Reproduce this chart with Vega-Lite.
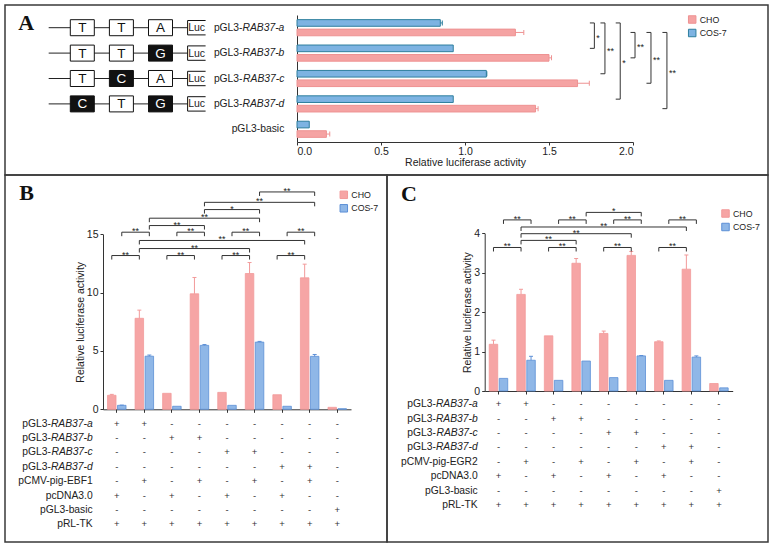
{
"$schema": "https://vega.github.io/schema/vega-lite/v6.json",
"padding": {"left": 4, "top": 4, "right": 5, "bottom": 4},
"background": "white",
"spacing": 0,
"bounds": "flush",
"config": {
  "view": {"stroke": "#3a3a3a", "strokeWidth": 1.5},
  "font": "Liberation Sans",
  "axis": {"grid": false, "labelFont": "Liberation Sans", "labelFontSize": 10.5, "labelColor": "#222", "titleFont": "Liberation Sans", "titleFontSize": 10.5, "titleFontWeight": "normal", "titleColor": "#222", "domainColor": "#333", "tickColor": "#333", "tickSize": 3},
  "text": {"font": "Liberation Sans", "color": "#222"}
},
"datasets": {
  "A_title": [{"t": "A"}],
  "B_title": [{"t": "B"}],
  "C_title": [{"t": "C"}],
  "A_cons": [{"c":"pGL3-RAB37-a"},{"c":"pGL3-RAB37-b"},{"c":"pGL3-RAB37-c"},{"c":"pGL3-RAB37-d"}],
  "A_sites": [
    {"c":"pGL3-RAB37-a","pos":1,"b":"T","m":false},{"c":"pGL3-RAB37-a","pos":2,"b":"T","m":false},{"c":"pGL3-RAB37-a","pos":3,"b":"A","m":false},
    {"c":"pGL3-RAB37-b","pos":1,"b":"T","m":false},{"c":"pGL3-RAB37-b","pos":2,"b":"T","m":false},{"c":"pGL3-RAB37-b","pos":3,"b":"G","m":true},
    {"c":"pGL3-RAB37-c","pos":1,"b":"T","m":false},{"c":"pGL3-RAB37-c","pos":2,"b":"C","m":true},{"c":"pGL3-RAB37-c","pos":3,"b":"A","m":false},
    {"c":"pGL3-RAB37-d","pos":1,"b":"C","m":true},{"c":"pGL3-RAB37-d","pos":2,"b":"T","m":false},{"c":"pGL3-RAB37-d","pos":3,"b":"G","m":true}
  ],
  "A_lab": [
    {"c":"pGL3-RAB37-a","p":"pGL3-","i":"RAB37-a"},{"c":"pGL3-RAB37-b","p":"pGL3-","i":"RAB37-b"},
    {"c":"pGL3-RAB37-c","p":"pGL3-","i":"RAB37-c"},{"c":"pGL3-RAB37-d","p":"pGL3-","i":"RAB37-d"},
    {"c":"pGL3-basic","p":"pGL3-basic","i":""}
  ],
  "A_bars": [
    {"c":"pGL3-RAB37-a","cell":"COS-7","v":0.853,"hi":0.865},
    {"c":"pGL3-RAB37-a","cell":"CHO","v":1.30,"hi":1.35},
    {"c":"pGL3-RAB37-b","cell":"COS-7","v":0.93,"hi":0.93},
    {"c":"pGL3-RAB37-b","cell":"CHO","v":1.50,"hi":1.515},
    {"c":"pGL3-RAB37-c","cell":"COS-7","v":1.127,"hi":1.13},
    {"c":"pGL3-RAB37-c","cell":"CHO","v":1.67,"hi":1.74},
    {"c":"pGL3-RAB37-d","cell":"COS-7","v":0.93,"hi":0.93},
    {"c":"pGL3-RAB37-d","cell":"CHO","v":1.42,"hi":1.435},
    {"c":"pGL3-basic","cell":"COS-7","v":0.073,"hi":0.073},
    {"c":"pGL3-basic","cell":"CHO","v":0.175,"hi":0.195}
  ],
  "A_br": [
    {"cell":"COS-7","from":"pGL3-RAB37-a","to":"pGL3-RAB37-b","lvl":1.77,"lab":"*","mid":"pGL3-RAB37-b","half":true},
    {"cell":"COS-7","from":"pGL3-RAB37-a","to":"pGL3-RAB37-c","lvl":1.833,"lab":"**","mid":"pGL3-RAB37-b","half":false},
    {"cell":"COS-7","from":"pGL3-RAB37-a","to":"pGL3-RAB37-d","lvl":1.924,"lab":"*","mid":"pGL3-RAB37-c","half":true},
    {"cell":"CHO","from":"pGL3-RAB37-a","to":"pGL3-RAB37-b","lvl":2.012,"lab":"**","mid":"pGL3-RAB37-b","half":true},
    {"cell":"CHO","from":"pGL3-RAB37-a","to":"pGL3-RAB37-c","lvl":2.107,"lab":"**","mid":"pGL3-RAB37-b","half":false},
    {"cell":"CHO","from":"pGL3-RAB37-a","to":"pGL3-RAB37-d","lvl":2.202,"lab":"**","mid":"pGL3-RAB37-c","half":true}
  ],
  "B_bars": [
    {"g":"g1","cell":"CHO","v":1.2,"hi":1.28},{"g":"g1","cell":"COS-7","v":0.34,"hi":0.36},
    {"g":"g2","cell":"CHO","v":7.8,"hi":8.5},{"g":"g2","cell":"COS-7","v":4.55,"hi":4.65},
    {"g":"g3","cell":"CHO","v":1.37,"hi":1.37},{"g":"g3","cell":"COS-7","v":0.26,"hi":0.26},
    {"g":"g4","cell":"CHO","v":9.9,"hi":11.3},{"g":"g4","cell":"COS-7","v":5.48,"hi":5.55},
    {"g":"g5","cell":"CHO","v":1.45,"hi":1.45},{"g":"g5","cell":"COS-7","v":0.34,"hi":0.34},
    {"g":"g6","cell":"CHO","v":11.64,"hi":12.58},{"g":"g6","cell":"COS-7","v":5.76,"hi":5.82},
    {"g":"g7","cell":"CHO","v":1.25,"hi":1.25},{"g":"g7","cell":"COS-7","v":0.26,"hi":0.26},
    {"g":"g8","cell":"CHO","v":11.27,"hi":12.44},{"g":"g8","cell":"COS-7","v":4.54,"hi":4.7},
    {"g":"g9","cell":"CHO","v":0.17,"hi":0.17},{"g":"g9","cell":"COS-7","v":0.05,"hi":0.05}
  ],
  "B_br": [
    {"cell":"CHO","from":"g1","to":"g2","lvl":13.18,"lab":"**","mid":"g2","half":true},
    {"cell":"CHO","from":"g3","to":"g4","lvl":13.18,"lab":"**","mid":"g4","half":true},
    {"cell":"CHO","from":"g5","to":"g6","lvl":13.18,"lab":"**","mid":"g6","half":true},
    {"cell":"CHO","from":"g7","to":"g8","lvl":13.18,"lab":"**","mid":"g8","half":true},
    {"cell":"CHO","from":"g2","to":"g6","lvl":13.78,"lab":"**","mid":"g4","half":false},
    {"cell":"CHO","from":"g2","to":"g8","lvl":14.47,"lab":"**","mid":"g5","half":false},
    {"cell":"COS-7","from":"g1","to":"g2","lvl":15.18,"lab":"**","mid":"g2","half":true},
    {"cell":"COS-7","from":"g3","to":"g4","lvl":15.18,"lab":"**","mid":"g4","half":true},
    {"cell":"COS-7","from":"g5","to":"g6","lvl":15.18,"lab":"**","mid":"g6","half":true},
    {"cell":"COS-7","from":"g7","to":"g8","lvl":15.18,"lab":"**","mid":"g8","half":true},
    {"cell":"COS-7","from":"g2","to":"g4","lvl":15.75,"lab":"**","mid":"g3","half":false},
    {"cell":"COS-7","from":"g2","to":"g6","lvl":16.38,"lab":"**","mid":"g4","half":false},
    {"cell":"COS-7","from":"g4","to":"g6","lvl":17.12,"lab":"*","mid":"g5","half":false},
    {"cell":"COS-7","from":"g4","to":"g8","lvl":17.74,"lab":"**","mid":"g6","half":false},
    {"cell":"COS-7","from":"g6","to":"g8","lvl":18.63,"lab":"**","mid":"g7","half":false}
  ],
  "B_tab": [
    {"r":"pGL3-RAB37-a","p":"pGL3-","i":"RAB37-a","g1":"+","g2":"+","g3":"-","g4":"-","g5":"-","g6":"-","g7":"-","g8":"-","g9":"-"},
    {"r":"pGL3-RAB37-b","p":"pGL3-","i":"RAB37-b","g1":"-","g2":"-","g3":"+","g4":"+","g5":"-","g6":"-","g7":"-","g8":"-","g9":"-"},
    {"r":"pGL3-RAB37-c","p":"pGL3-","i":"RAB37-c","g1":"-","g2":"-","g3":"-","g4":"-","g5":"+","g6":"+","g7":"-","g8":"-","g9":"-"},
    {"r":"pGL3-RAB37-d","p":"pGL3-","i":"RAB37-d","g1":"-","g2":"-","g3":"-","g4":"-","g5":"-","g6":"-","g7":"+","g8":"+","g9":"-"},
    {"r":"pCMV-pig-EBF1","p":"pCMV-pig-EBF1","i":"","g1":"-","g2":"+","g3":"-","g4":"+","g5":"-","g6":"+","g7":"-","g8":"+","g9":"-"},
    {"r":"pcDNA3.0","p":"pcDNA3.0","i":"","g1":"+","g2":"-","g3":"+","g4":"-","g5":"+","g6":"-","g7":"+","g8":"-","g9":"-"},
    {"r":"pGL3-basic","p":"pGL3-basic","i":"","g1":"-","g2":"-","g3":"-","g4":"-","g5":"-","g6":"-","g7":"-","g8":"-","g9":"+"},
    {"r":"pRL-TK","p":"pRL-TK","i":"","g1":"+","g2":"+","g3":"+","g4":"+","g5":"+","g6":"+","g7":"+","g8":"+","g9":"+"}
  ],
  "C_bars": [
    {"g":"g1","cell":"CHO","v":1.185,"hi":1.29},{"g":"g1","cell":"COS-7","v":0.32,"hi":0.32},
    {"g":"g2","cell":"CHO","v":2.45,"hi":2.58},{"g":"g2","cell":"COS-7","v":0.78,"hi":0.88},
    {"g":"g3","cell":"CHO","v":1.40,"hi":1.40},{"g":"g3","cell":"COS-7","v":0.27,"hi":0.27},
    {"g":"g4","cell":"CHO","v":3.24,"hi":3.36},{"g":"g4","cell":"COS-7","v":0.76,"hi":0.76},
    {"g":"g5","cell":"CHO","v":1.46,"hi":1.52},{"g":"g5","cell":"COS-7","v":0.34,"hi":0.34},
    {"g":"g6","cell":"CHO","v":3.44,"hi":3.54},{"g":"g6","cell":"COS-7","v":0.89,"hi":0.9},
    {"g":"g7","cell":"CHO","v":1.25,"hi":1.27},{"g":"g7","cell":"COS-7","v":0.27,"hi":0.27},
    {"g":"g8","cell":"CHO","v":3.09,"hi":3.45},{"g":"g8","cell":"COS-7","v":0.86,"hi":0.89},
    {"g":"g9","cell":"CHO","v":0.19,"hi":0.19},{"g":"g9","cell":"COS-7","v":0.08,"hi":0.08}
  ],
  "C_br": [
    {"cell":"CHO","from":"g1","to":"g2","lvl":3.64,"lab":"**","mid":"g2","half":true},
    {"cell":"CHO","from":"g3","to":"g4","lvl":3.64,"lab":"**","mid":"g4","half":true},
    {"cell":"CHO","from":"g5","to":"g6","lvl":3.64,"lab":"**","mid":"g6","half":true},
    {"cell":"CHO","from":"g7","to":"g8","lvl":3.64,"lab":"**","mid":"g8","half":true},
    {"cell":"CHO","from":"g2","to":"g4","lvl":3.82,"lab":"**","mid":"g3","half":false},
    {"cell":"CHO","from":"g2","to":"g6","lvl":3.99,"lab":"**","mid":"g4","half":false},
    {"cell":"CHO","from":"g2","to":"g8","lvl":4.16,"lab":"**","mid":"g5","half":false},
    {"cell":"COS-7","from":"g1","to":"g2","lvl":4.34,"lab":"**","mid":"g2","half":true},
    {"cell":"COS-7","from":"g3","to":"g4","lvl":4.34,"lab":"**","mid":"g4","half":true},
    {"cell":"COS-7","from":"g5","to":"g6","lvl":4.34,"lab":"**","mid":"g6","half":true},
    {"cell":"COS-7","from":"g7","to":"g8","lvl":4.34,"lab":"**","mid":"g8","half":true},
    {"cell":"COS-7","from":"g4","to":"g6","lvl":4.53,"lab":"*","mid":"g5","half":false}
  ],
  "C_tab": [
    {"r":"pGL3-RAB37-a","p":"pGL3-","i":"RAB37-a","g1":"+","g2":"+","g3":"-","g4":"-","g5":"-","g6":"-","g7":"-","g8":"-","g9":"-"},
    {"r":"pGL3-RAB37-b","p":"pGL3-","i":"RAB37-b","g1":"-","g2":"-","g3":"+","g4":"+","g5":"-","g6":"-","g7":"-","g8":"-","g9":"-"},
    {"r":"pGL3-RAB37-c","p":"pGL3-","i":"RAB37-c","g1":"-","g2":"-","g3":"-","g4":"-","g5":"+","g6":"+","g7":"-","g8":"-","g9":"-"},
    {"r":"pGL3-RAB37-d","p":"pGL3-","i":"RAB37-d","g1":"-","g2":"-","g3":"-","g4":"-","g5":"-","g6":"-","g7":"+","g8":"+","g9":"-"},
    {"r":"pCMV-pig-EGR2","p":"pCMV-pig-EGR2","i":"","g1":"-","g2":"+","g3":"-","g4":"+","g5":"-","g6":"+","g7":"-","g8":"+","g9":"-"},
    {"r":"pcDNA3.0","p":"pcDNA3.0","i":"","g1":"+","g2":"-","g3":"+","g4":"-","g5":"+","g6":"-","g7":"+","g8":"-","g9":"-"},
    {"r":"pGL3-basic","p":"pGL3-basic","i":"","g1":"-","g2":"-","g3":"-","g4":"-","g5":"-","g6":"-","g7":"-","g8":"-","g9":"+"},
    {"r":"pRL-TK","p":"pRL-TK","i":"","g1":"+","g2":"+","g3":"+","g4":"+","g5":"+","g6":"+","g7":"+","g8":"+","g9":"+"}
  ]
},
"resolve": {"scale": {"color": "independent", "stroke": "independent", "fill": "independent"}, "legend": {"color": "independent", "stroke": "independent", "fill": "independent"}},
"vconcat": [
{
  "width": 763, "height": 170,
  "resolve": {"scale": {"x": "independent"}, "axis": {"x": "independent"}},
  "layer": [
    {"layer": [
      {"data": {"name": "A_cons"}, "mark": {"type": "rule", "color": "#222", "strokeWidth": 1},
       "encoding": {
         "x": {"datum": 0.14, "type": "quantitative", "scale": {"domain": [1, 4], "range": [77.3, 194.6], "nice": false, "zero": false}, "axis": null},
         "x2": {"datum": 3.7},
         "y": {"field": "c", "type": "nominal", "scale": {"type": "band", "domain": ["pGL3-RAB37-a","pGL3-RAB37-b","pGL3-RAB37-c","pGL3-RAB37-d","pGL3-basic"], "range": [10, 137], "paddingInner": 0, "paddingOuter": 0}}}},
      {"data": {"name": "A_sites"}, "mark": {"type": "point", "shape": "M-1,-0.667H1V0.667H-1Z", "size": 576, "filled": true, "stroke": "#111", "strokeWidth": 1, "opacity": 1},
       "encoding": {
         "x": {"field": "pos", "type": "quantitative", "axis": null},
         "y": {"field": "c", "type": "nominal"},
         "fill": {"condition": {"test": "datum.m", "value": "#111111"}, "value": "#ffffff"}}},
      {"data": {"name": "A_sites"}, "mark": {"type": "text", "fontSize": 13.5, "baseline": "middle", "dy": 0.5},
       "encoding": {
         "x": {"field": "pos", "type": "quantitative", "axis": null},
         "y": {"field": "c", "type": "nominal"},
         "text": {"field": "b"},
         "color": {"condition": {"test": "datum.m", "value": "#ffffff"}, "value": "#111111"}}},
      {"data": {"name": "A_cons"}, "mark": {"type": "point", "shape": "M0.5,-0.6H-1V0.6H0.5", "size": 576, "filled": true, "fill": "#ffffff", "stroke": "#111", "strokeWidth": 1, "opacity": 1},
       "encoding": {
         "x": {"datum": 4, "type": "quantitative", "axis": null},
         "y": {"field": "c", "type": "nominal"}}},
      {"data": {"name": "A_cons"}, "mark": {"type": "text", "fontSize": 10.5, "baseline": "middle", "dx": -3, "dy": 0.5, "text": "Luc"},
       "encoding": {
         "x": {"datum": 4, "type": "quantitative", "axis": null},
         "y": {"field": "c", "type": "nominal"}}},
      {"data": {"name": "A_title"}, "mark": {"type": "text", "align": "left", "baseline": "alphabetic", "font": "Liberation Serif", "fontSize": 22, "fontWeight": "bold", "color": "#111", "dy": 2.3},
       "encoding": {
         "x": {"datum": -0.637, "type": "quantitative", "axis": null},
         "y": {"datum": "pGL3-RAB37-a", "type": "nominal"},
         "text": {"field": "t"}}}
    ]},
    {"layer": [
      {"data": {"name": "A_bars"}, "mark": {"type": "bar", "strokeWidth": 1},
       "encoding": {
         "x": {"field": "v", "type": "quantitative", "scale": {"domain": [0, 2], "range": [292, 628], "nice": false, "zero": false},
               "axis": {"values": [0, 0.5, 1, 1.5, 2], "format": ".1f", "offset": -33, "title": "Relative luciferase activity", "labelPadding": 1, "titlePadding": 1, "tickSize": 3}},
         "y": {"field": "c", "type": "nominal", "scale": {"type": "band", "domain": ["pGL3-RAB37-a","pGL3-RAB37-b","pGL3-RAB37-c","pGL3-RAB37-d","pGL3-basic"], "range": [10, 137], "paddingInner": 0, "paddingOuter": 0},
               "axis": {"labels": false, "ticks": false, "title": null, "offset": -292, "domainColor": "#333"}},
         "yOffset": {"field": "cell", "type": "nominal", "scale": {"domain": ["COS-7", "CHO"], "paddingInner": 0.3, "paddingOuter": 0.487}},
         "color": {"field": "cell", "type": "nominal", "scale": {"domain": ["CHO", "COS-7"], "range": ["#F5A3A3", "#7DB3E2"]},
                   "legend": {"title": null, "orient": "none", "legendX": 682.7, "legendY": 10, "symbolType": "square", "symbolSize": 56, "symbolStrokeWidth": 1, "labelFontSize": 8.8, "labelColor": "#222", "rowPadding": 0.5, "labelOffset": 3, "padding": 0}},
         "stroke": {"field": "cell", "type": "nominal", "scale": {"domain": ["CHO", "COS-7"], "range": ["#EE9292", "#2E7F9E"]},
                   "legend": {"title": null, "orient": "none", "legendX": 682.7, "legendY": 10, "symbolType": "square", "symbolSize": 56, "symbolStrokeWidth": 1, "labelFontSize": 8.8, "labelColor": "#222", "rowPadding": 0.5, "labelOffset": 3, "padding": 0}}}},
      {"data": {"name": "A_bars"}, "transform": [{"filter": "datum.hi > datum.v"}], "mark": {"type": "rule", "strokeWidth": 1},
       "encoding": {
         "x": {"field": "v", "type": "quantitative"},
         "x2": {"field": "hi"},
         "y": {"field": "c", "type": "nominal"},
         "yOffset": {"field": "cell", "type": "nominal"},
         "stroke": {"field": "cell", "type": "nominal", "legend": null}}},
      {"data": {"name": "A_bars"}, "transform": [{"filter": "datum.hi > datum.v"}], "mark": {"type": "tick", "thickness": 1, "size": 5, "orient": "vertical", "opacity": 1},
       "encoding": {
         "x": {"field": "hi", "type": "quantitative"},
         "y": {"field": "c", "type": "nominal"},
         "yOffset": {"field": "cell", "type": "nominal"},
         "fill": {"field": "cell", "type": "nominal", "scale": {"domain": ["CHO", "COS-7"], "range": ["#EE9292", "#2E7F9E"]}, "legend": null}}},
      {"data": {"name": "A_lab"}, "transform": [{"filter": "datum.i != ''"}], "mark": {"type": "text", "align": "right", "baseline": "middle", "fontSize": 10.3, "dx": -54.5},
       "encoding": {"x": {"datum": 0, "type": "quantitative"}, "y": {"field": "c", "type": "nominal"}, "text": {"field": "p"}}},
      {"data": {"name": "A_lab"}, "transform": [{"filter": "datum.i != ''"}], "mark": {"type": "text", "align": "right", "baseline": "middle", "fontSize": 10.3, "fontStyle": "italic", "dx": -12.7},
       "encoding": {"x": {"datum": 0, "type": "quantitative"}, "y": {"field": "c", "type": "nominal"}, "text": {"field": "i"}}},
      {"data": {"name": "A_lab"}, "transform": [{"filter": "datum.i == ''"}], "mark": {"type": "text", "align": "right", "baseline": "middle", "fontSize": 10.3, "dx": -12.7},
       "encoding": {"x": {"datum": 0, "type": "quantitative"}, "y": {"field": "c", "type": "nominal"}, "text": {"field": "p"}}},
      {"data": {"name": "A_br"}, "transform": [{"filter": "datum.cell === 'COS-7'"}], "mark": {"type": "rule", "color": "#333", "strokeWidth": 1, "yOffset": -4.75, "y2Offset": -4.75},
       "encoding": {"x": {"field": "lvl", "type": "quantitative"}, "y": {"field": "from", "type": "nominal"}, "y2": {"field": "to"}}},
      {"data": {"name": "A_br"}, "transform": [{"filter": "datum.cell === 'CHO'"}], "mark": {"type": "rule", "color": "#333", "strokeWidth": 1, "yOffset": 4.75, "y2Offset": 4.75},
       "encoding": {"x": {"field": "lvl", "type": "quantitative"}, "y": {"field": "from", "type": "nominal"}, "y2": {"field": "to"}}},
      {"data": {"name": "A_br"}, "mark": {"type": "rule", "color": "#333", "strokeWidth": 1, "x2Offset": -4.5},
       "encoding": {"x": {"field": "lvl", "type": "quantitative"}, "x2": {"field": "lvl"}, "y": {"field": "from", "type": "nominal"}, "yOffset": {"field": "cell", "type": "nominal"}}},
      {"data": {"name": "A_br"}, "mark": {"type": "rule", "color": "#333", "strokeWidth": 1, "x2Offset": -4.5},
       "encoding": {"x": {"field": "lvl", "type": "quantitative"}, "x2": {"field": "lvl"}, "y": {"field": "to", "type": "nominal"}, "yOffset": {"field": "cell", "type": "nominal"}}},
      {"data": {"name": "A_br"}, "transform": [{"filter": "datum.half"}], "mark": {"type": "text", "align": "left", "baseline": "alphabetic", "fontSize": 9, "dx": 2, "dy": -7.5},
       "encoding": {"x": {"field": "lvl", "type": "quantitative"}, "y": {"field": "mid", "type": "nominal"}, "yOffset": {"field": "cell", "type": "nominal"}, "text": {"field": "lab"}}},
      {"data": {"name": "A_br"}, "transform": [{"filter": "!datum.half"}], "mark": {"type": "text", "align": "left", "baseline": "alphabetic", "fontSize": 9, "dx": 2, "dy": 5.2},
       "encoding": {"x": {"field": "lvl", "type": "quantitative"}, "y": {"field": "mid", "type": "nominal"}, "yOffset": {"field": "cell", "type": "nominal"}, "text": {"field": "lab"}}}
    ]}
  ]
},
{
  "hconcat": [
  {
    "width": 382, "height": 367,
    "resolve": {"scale": {"y": "independent"}, "axis": {"y": "independent"}},
    "layer": [
      {"layer": [
        {"data": {"name": "B_bars"}, "mark": {"type": "bar", "strokeWidth": 0.8},
         "encoding": {
           "x": {"field": "g", "type": "nominal", "scale": {"type": "band", "domain": ["g1","g2","g3","g4","g5","g6","g7","g8","g9"], "range": [98, 346], "paddingInner": 0, "paddingOuter": 0},
                 "axis": {"labels": false, "title": null, "offset": -132.7, "tickSize": 3}},
           "xOffset": {"field": "cell", "type": "nominal", "scale": {"domain": ["CHO", "COS-7"], "paddingInner": 0.15, "paddingOuter": 0.453}},
           "y": {"field": "v", "type": "quantitative", "scale": {"domain": [0, 15], "range": [234.3, 59.3], "nice": false, "zero": false},
                 "axis": {"values": [0, 5, 10, 15], "format": "d", "offset": -98, "title": "Relative luciferase activity", "titlePadding": 1}},
           "color": {"field": "cell", "type": "nominal", "scale": {"domain": ["CHO", "COS-7"], "range": ["#F6A5A5", "#8FB7E7"]},
                     "legend": {"title": null, "orient": "none", "legendX": 334.3, "legendY": 15.3, "symbolType": "square", "symbolSize": 56, "symbolStrokeWidth": 1, "labelFontSize": 8.8, "labelColor": "#222", "rowPadding": 0.5, "labelOffset": 3, "padding": 0}},
           "stroke": {"field": "cell", "type": "nominal", "scale": {"domain": ["CHO", "COS-7"], "range": ["#F29A9A", "#5C8FD6"]},
                     "legend": {"title": null, "orient": "none", "legendX": 334.3, "legendY": 15.3, "symbolType": "square", "symbolSize": 56, "symbolStrokeWidth": 1, "labelFontSize": 8.8, "labelColor": "#222", "rowPadding": 0.5, "labelOffset": 3, "padding": 0}}}},
        {"data": {"name": "B_bars"}, "transform": [{"filter": "datum.hi > datum.v"}], "mark": {"type": "rule", "strokeWidth": 1},
         "encoding": {
           "x": {"field": "g", "type": "nominal"},
           "xOffset": {"field": "cell", "type": "nominal"},
           "y": {"field": "v", "type": "quantitative"},
           "y2": {"field": "hi"},
           "stroke": {"field": "cell", "type": "nominal", "legend": null}}},
        {"data": {"name": "B_bars"}, "transform": [{"filter": "datum.hi > datum.v"}], "mark": {"type": "tick", "thickness": 1, "size": 4, "orient": "horizontal", "opacity": 1},
         "encoding": {
           "x": {"field": "g", "type": "nominal"},
           "xOffset": {"field": "cell", "type": "nominal"},
           "y": {"field": "hi", "type": "quantitative"},
           "fill": {"field": "cell", "type": "nominal", "scale": {"domain": ["CHO", "COS-7"], "range": ["#F29A9A", "#5C8FD6"]}, "legend": null}}},
        {"data": {"name": "B_br"}, "transform": [{"filter": "datum.cell === 'CHO'"}], "mark": {"type": "rule", "color": "#333", "strokeWidth": 1, "xOffset": -5, "x2Offset": -5},
         "encoding": {"x": {"field": "from", "type": "nominal"}, "x2": {"field": "to"}, "y": {"field": "lvl", "type": "quantitative"}}},
        {"data": {"name": "B_br"}, "transform": [{"filter": "datum.cell === 'COS-7'"}], "mark": {"type": "rule", "color": "#333", "strokeWidth": 1, "xOffset": 5, "x2Offset": 5},
         "encoding": {"x": {"field": "from", "type": "nominal"}, "x2": {"field": "to"}, "y": {"field": "lvl", "type": "quantitative"}}},
        {"data": {"name": "B_br"}, "mark": {"type": "rule", "color": "#333", "strokeWidth": 1, "y2Offset": 4},
         "encoding": {"x": {"field": "from", "type": "nominal"}, "xOffset": {"field": "cell", "type": "nominal"}, "y": {"field": "lvl", "type": "quantitative"}, "y2": {"field": "lvl"}}},
        {"data": {"name": "B_br"}, "mark": {"type": "rule", "color": "#333", "strokeWidth": 1, "y2Offset": 4},
         "encoding": {"x": {"field": "to", "type": "nominal"}, "xOffset": {"field": "cell", "type": "nominal"}, "y": {"field": "lvl", "type": "quantitative"}, "y2": {"field": "lvl"}}},
        {"data": {"name": "B_br"}, "transform": [{"filter": "datum.half"}], "mark": {"type": "text", "fontSize": 9, "baseline": "alphabetic", "dx": -13.78, "dy": 2},
         "encoding": {"x": {"field": "mid", "type": "nominal"}, "xOffset": {"field": "cell", "type": "nominal"}, "y": {"field": "lvl", "type": "quantitative"}, "text": {"field": "lab"}}},
        {"data": {"name": "B_br"}, "transform": [{"filter": "!datum.half"}], "mark": {"type": "text", "fontSize": 9, "baseline": "alphabetic", "dy": 2},
         "encoding": {"x": {"field": "mid", "type": "nominal"}, "xOffset": {"field": "cell", "type": "nominal"}, "y": {"field": "lvl", "type": "quantitative"}, "text": {"field": "lab"}}},
        {"data": {"name": "B_title"}, "mark": {"type": "text", "align": "left", "baseline": "alphabetic", "font": "Liberation Serif", "fontSize": 22, "fontWeight": "bold", "color": "#111", "dx": -97.5},
         "encoding": {"x": {"datum": "g1", "type": "nominal"}, "y": {"datum": 17.91, "type": "quantitative"}, "text": {"field": "t"}}}
      ]},
      {"layer": [
        {"data": {"name": "B_tab"}, "transform": [{"fold": ["g1","g2","g3","g4","g5","g6","g7","g8","g9"], "as": ["g", "s"]}], "mark": {"type": "text", "fontSize": 9.5, "baseline": "middle", "color": "#333"},
         "encoding": {
           "x": {"field": "g", "type": "nominal", "scale": {"type": "band", "domain": ["g1","g2","g3","g4","g5","g6","g7","g8","g9"], "range": [98, 346], "paddingInner": 0, "paddingOuter": 0}},
           "y": {"field": "r", "type": "nominal", "scale": {"type": "point", "domain": ["pGL3-RAB37-a","pGL3-RAB37-b","pGL3-RAB37-c","pGL3-RAB37-d","pCMV-pig-EBF1","pcDNA3.0","pGL3-basic","pRL-TK"], "range": [248.7, 349.3], "padding": 0}, "axis": null},
           "text": {"field": "s"}}},
        {"data": {"name": "B_tab"}, "transform": [{"filter": "datum.i != ''"}], "mark": {"type": "text", "align": "right", "baseline": "middle", "fontSize": 10.3, "dx": -65.9},
         "encoding": {"x": {"datum": "g1", "type": "nominal"}, "y": {"field": "r", "type": "nominal", "axis": null}, "text": {"field": "p"}}},
        {"data": {"name": "B_tab"}, "transform": [{"filter": "datum.i != ''"}], "mark": {"type": "text", "align": "right", "baseline": "middle", "fontSize": 10.3, "fontStyle": "italic", "dx": -24.1},
         "encoding": {"x": {"datum": "g1", "type": "nominal"}, "y": {"field": "r", "type": "nominal", "axis": null}, "text": {"field": "i"}}},
        {"data": {"name": "B_tab"}, "transform": [{"filter": "datum.i == ''"}], "mark": {"type": "text", "align": "right", "baseline": "middle", "fontSize": 10.3, "dx": -24.1},
         "encoding": {"x": {"datum": "g1", "type": "nominal"}, "y": {"field": "r", "type": "nominal", "axis": null}, "text": {"field": "p"}}}
      ]}
    ]
  },
  {
    "width": 381, "height": 367,
    "resolve": {"scale": {"y": "independent"}, "axis": {"y": "independent"}},
    "layer": [
      {"layer": [
        {"data": {"name": "C_bars"}, "mark": {"type": "bar", "strokeWidth": 0.8},
         "encoding": {
           "x": {"field": "g", "type": "nominal", "scale": {"type": "band", "domain": ["g1","g2","g3","g4","g5","g6","g7","g8","g9"], "range": [97.7, 345.7], "paddingInner": 0, "paddingOuter": 0},
                 "axis": {"labels": false, "title": null, "offset": -151, "tickSize": 3}},
           "xOffset": {"field": "cell", "type": "nominal", "scale": {"domain": ["CHO", "COS-7"], "paddingInner": 0.15, "paddingOuter": 0.453}},
           "y": {"field": "v", "type": "quantitative", "scale": {"domain": [0, 4], "range": [216, 58.3], "nice": false, "zero": false},
                 "axis": {"values": [0, 1, 2, 3, 4], "format": "d", "offset": -97.7, "title": "Relative luciferase activity", "titlePadding": 1}},
           "color": {"field": "cell", "type": "nominal", "scale": {"domain": ["CHO", "COS-7"], "range": ["#F6A5A5", "#8FB7E7"]},
                     "legend": {"title": null, "orient": "none", "legendX": 334, "legendY": 34, "symbolType": "square", "symbolSize": 56, "symbolStrokeWidth": 1, "labelFontSize": 8.8, "labelColor": "#222", "rowPadding": 0.5, "labelOffset": 3, "padding": 0}},
           "stroke": {"field": "cell", "type": "nominal", "scale": {"domain": ["CHO", "COS-7"], "range": ["#F29A9A", "#5C8FD6"]},
                     "legend": {"title": null, "orient": "none", "legendX": 334, "legendY": 34, "symbolType": "square", "symbolSize": 56, "symbolStrokeWidth": 1, "labelFontSize": 8.8, "labelColor": "#222", "rowPadding": 0.5, "labelOffset": 3, "padding": 0}}}},
        {"data": {"name": "C_bars"}, "transform": [{"filter": "datum.hi > datum.v"}], "mark": {"type": "rule", "strokeWidth": 1},
         "encoding": {
           "x": {"field": "g", "type": "nominal"},
           "xOffset": {"field": "cell", "type": "nominal"},
           "y": {"field": "v", "type": "quantitative"},
           "y2": {"field": "hi"},
           "stroke": {"field": "cell", "type": "nominal", "legend": null}}},
        {"data": {"name": "C_bars"}, "transform": [{"filter": "datum.hi > datum.v"}], "mark": {"type": "tick", "thickness": 1, "size": 4, "orient": "horizontal", "opacity": 1},
         "encoding": {
           "x": {"field": "g", "type": "nominal"},
           "xOffset": {"field": "cell", "type": "nominal"},
           "y": {"field": "hi", "type": "quantitative"},
           "fill": {"field": "cell", "type": "nominal", "scale": {"domain": ["CHO", "COS-7"], "range": ["#F29A9A", "#5C8FD6"]}, "legend": null}}},
        {"data": {"name": "C_br"}, "transform": [{"filter": "datum.cell === 'CHO'"}], "mark": {"type": "rule", "color": "#333", "strokeWidth": 1, "xOffset": -5, "x2Offset": -5},
         "encoding": {"x": {"field": "from", "type": "nominal"}, "x2": {"field": "to"}, "y": {"field": "lvl", "type": "quantitative"}}},
        {"data": {"name": "C_br"}, "transform": [{"filter": "datum.cell === 'COS-7'"}], "mark": {"type": "rule", "color": "#333", "strokeWidth": 1, "xOffset": 5, "x2Offset": 5},
         "encoding": {"x": {"field": "from", "type": "nominal"}, "x2": {"field": "to"}, "y": {"field": "lvl", "type": "quantitative"}}},
        {"data": {"name": "C_br"}, "mark": {"type": "rule", "color": "#333", "strokeWidth": 1, "y2Offset": 4},
         "encoding": {"x": {"field": "from", "type": "nominal"}, "xOffset": {"field": "cell", "type": "nominal"}, "y": {"field": "lvl", "type": "quantitative"}, "y2": {"field": "lvl"}}},
        {"data": {"name": "C_br"}, "mark": {"type": "rule", "color": "#333", "strokeWidth": 1, "y2Offset": 4},
         "encoding": {"x": {"field": "to", "type": "nominal"}, "xOffset": {"field": "cell", "type": "nominal"}, "y": {"field": "lvl", "type": "quantitative"}, "y2": {"field": "lvl"}}},
        {"data": {"name": "C_br"}, "transform": [{"filter": "datum.half"}], "mark": {"type": "text", "fontSize": 9, "baseline": "alphabetic", "dx": -13.78, "dy": 2},
         "encoding": {"x": {"field": "mid", "type": "nominal"}, "xOffset": {"field": "cell", "type": "nominal"}, "y": {"field": "lvl", "type": "quantitative"}, "text": {"field": "lab"}}},
        {"data": {"name": "C_br"}, "transform": [{"filter": "!datum.half"}], "mark": {"type": "text", "fontSize": 9, "baseline": "alphabetic", "dy": 2},
         "encoding": {"x": {"field": "mid", "type": "nominal"}, "xOffset": {"field": "cell", "type": "nominal"}, "y": {"field": "lvl", "type": "quantitative"}, "text": {"field": "lab"}}},
        {"data": {"name": "C_title"}, "mark": {"type": "text", "align": "left", "baseline": "alphabetic", "font": "Liberation Serif", "fontSize": 22, "fontWeight": "bold", "color": "#111", "dx": -97.5},
         "encoding": {"x": {"datum": "g1", "type": "nominal"}, "y": {"datum": 4.819, "type": "quantitative"}, "text": {"field": "t"}}}
      ]},
      {"layer": [
        {"data": {"name": "C_tab"}, "transform": [{"fold": ["g1","g2","g3","g4","g5","g6","g7","g8","g9"], "as": ["g", "s"]}], "mark": {"type": "text", "fontSize": 9.5, "baseline": "middle", "color": "#333"},
         "encoding": {
           "x": {"field": "g", "type": "nominal", "scale": {"type": "band", "domain": ["g1","g2","g3","g4","g5","g6","g7","g8","g9"], "range": [97.7, 345.7], "paddingInner": 0, "paddingOuter": 0}},
           "y": {"field": "r", "type": "nominal", "scale": {"type": "point", "domain": ["pGL3-RAB37-a","pGL3-RAB37-b","pGL3-RAB37-c","pGL3-RAB37-d","pCMV-pig-EGR2","pcDNA3.0","pGL3-basic","pRL-TK"], "range": [229.3, 330], "padding": 0}, "axis": null},
           "text": {"field": "s"}}},
        {"data": {"name": "C_tab"}, "transform": [{"filter": "datum.i != ''"}], "mark": {"type": "text", "align": "right", "baseline": "middle", "fontSize": 10.3, "dx": -62.6},
         "encoding": {"x": {"datum": "g1", "type": "nominal"}, "y": {"field": "r", "type": "nominal", "axis": null}, "text": {"field": "p"}}},
        {"data": {"name": "C_tab"}, "transform": [{"filter": "datum.i != ''"}], "mark": {"type": "text", "align": "right", "baseline": "middle", "fontSize": 10.3, "fontStyle": "italic", "dx": -20.8},
         "encoding": {"x": {"datum": "g1", "type": "nominal"}, "y": {"field": "r", "type": "nominal", "axis": null}, "text": {"field": "i"}}},
        {"data": {"name": "C_tab"}, "transform": [{"filter": "datum.i == ''"}], "mark": {"type": "text", "align": "right", "baseline": "middle", "fontSize": 10.3, "dx": -20.8},
         "encoding": {"x": {"datum": "g1", "type": "nominal"}, "y": {"field": "r", "type": "nominal", "axis": null}, "text": {"field": "p"}}}
      ]}
    ]
  }
  ],
  "spacing": 0,
  "bounds": "flush",
  "resolve": {"scale": {"color": "independent", "stroke": "independent", "fill": "independent", "xOffset": "independent"}, "legend": {"color": "independent", "stroke": "independent", "fill": "independent"}}
}
]
}
